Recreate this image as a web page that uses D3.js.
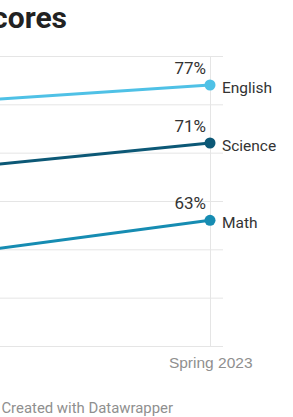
<!DOCTYPE html>
<html>
<head>
<meta charset="utf-8">
<script src="https://cdn.jsdelivr.net/npm/d3@7"></script>
<style>
  body { margin:0; background:#fff; overflow:hidden; }
  svg { display:block; font-family: Roboto, "Noto Sans", sans-serif; }
</style>
</head>
<body>
<div id="viz"></div>
<script>
// data
const seasons = ['Spring 2022', 'Spring 2023'];
const subjects = ['English', 'Science', 'Math'];
const english = [75, 77];
const science = [68, 71];
const math = [59, 63];
const yTicks = [50, 55, 60, 65, 70, 75, 80];

const colors = {English:'#4fc1e6', Science:'#0c5876', Math:'#168cb2'};
const series = [
  {name:'English', values:english},
  {name:'Science', values:science},
  {name:'Math', values:math}
];

let svg = d3.select('#viz').append('svg')
  .attr('width', 293)
  .attr('height', 417);

// chart is wider than the window, left part falls outside
let x = d3.scalePoint().domain(seasons).range([-80, 210]);
let y = d3.scaleLinear().domain([50, 80]).range([346, 56]);

// horizontal grid
let grid = svg.append('g')
  .attr('transform', 'translate(-120,0)')
  .call(d3.axisLeft(y).tickValues(yTicks).tickSize(-343).tickFormat(''));
grid.select('.domain').remove();
grid.selectAll('line').attr('stroke', '#e5e5e5').attr('stroke-width', 1);

// vertical grid + x labels
let xa = svg.append('g')
  .attr('transform', 'translate(0,346)')
  .call(d3.axisBottom(x).tickSize(-290).tickPadding(13));
xa.select('.domain').remove();
xa.selectAll('line').attr('stroke', '#e5e5e5');
xa.selectAll('text')
  .attr('fill', '#8f8f8f')
  .style('font-size', '15.5px')
  .attr('text-anchor', 'end')
  .attr('dx', '42px')
  .attr('dy', '0.55em');

let line = d3.line()
  .x(function(d,i){ return x(seasons[i]); })
  .y(function(d){ return y(d); });

series.forEach(function(s){
  svg.append('path')
    .attr('d', line(s.values))
    .attr('fill', 'none')
    .attr('stroke', colors[s.name])
    .attr('stroke-width', 3);

  let last = s.values.length - 1;
  svg.append('circle')
    .attr('cx', x(seasons[last]))
    .attr('cy', y(s.values[last]))
    .attr('r', 5.5)
    .attr('fill', colors[s.name]);

  svg.append('text')
    .attr('x', x(seasons[last]) - 4)
    .attr('y', y(s.values[last]) - 11)
    .attr('text-anchor', 'end')
    .attr('fill', '#333')
    .style('font-size', '17px')
    .text(s.values[last] + '%');

  svg.append('text')
    .attr('x', x(seasons[last]) + 12)
    .attr('y', y(s.values[last]) + 8)
    .attr('fill', '#333')
    .style('font-size', '15.5px')
    .text(s.name);
});

// title and footer (cut off on the left like the rest)
svg.append('text')
  .attr('x', 67).attr('y', 28)
  .attr('text-anchor', 'end')
  .attr('fill', '#222')
  .style('font-size', '30px')
  .style('font-weight', 'bold')
  .text('Average test scores');

svg.append('text')
  .attr('x', 173).attr('y', 413)
  .attr('text-anchor', 'end')
  .attr('fill', '#8f8f8f')
  .style('font-size', '14.9px')
  .text('Chart: School report · Created with Datawrapper');
</script>
</body>
</html>
